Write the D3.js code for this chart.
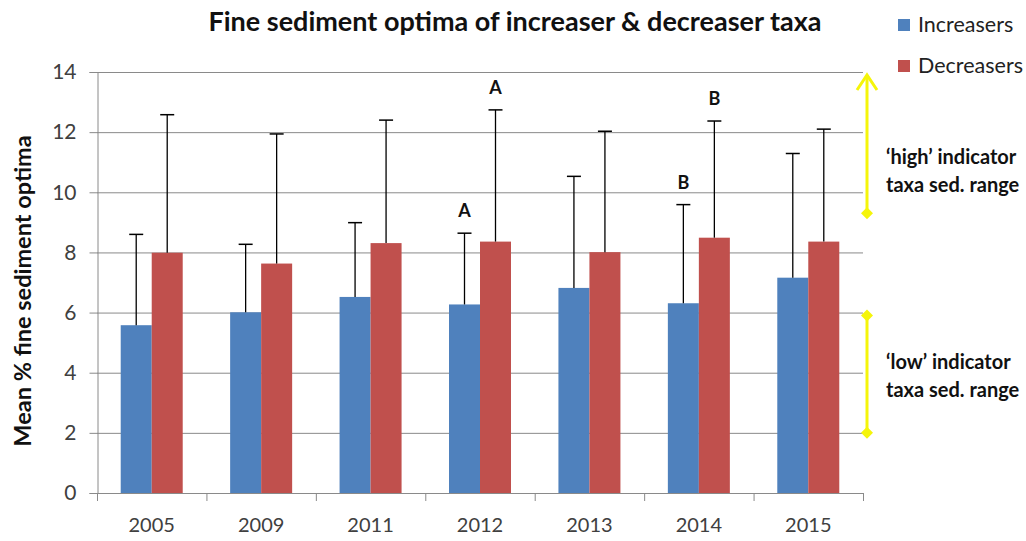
<!DOCTYPE html>
<html><head><meta charset="utf-8">
<script src="https://cdn.jsdelivr.net/npm/d3@7"></script>
<style>body{margin:0;background:#fff;} svg{display:block;}</style>
</head><body>
<svg id="chart" width="1026" height="541"></svg>
<script>
const years = ["2005","2009","2011","2012","2013","2014","2015"];
const seriesNames = ["Increasers","Decreasers"];
const increasers = [5.58, 6.01, 6.52, 6.27, 6.82, 6.31, 7.16];
const decreasers = [7.99, 7.63, 8.31, 8.36, 8.01, 8.49, 8.36];
const increasersErrTop = [8.60, 8.27, 8.99, 8.64, 10.53, 9.59, 11.29];
const decreasersErrTop = [12.58, 11.94, 12.40, 12.74, 12.03, 12.37, 12.10];
const increasersLetters = ["", "", "", "A", "", "B", ""];
const decreasersLetters = ["", "", "", "A", "", "B", ""];
const yTicks = [0, 2, 4, 6, 8, 10, 12, 14];
const highRange = [9.3, 13.9];
const lowRange = [2.0, 5.9];
const highLabel = ["\u2018high\u2019 indicator", "taxa sed. range"];
const lowLabel = ["\u2018low\u2019 indicator", "taxa sed. range"];
const titleText = "Fine sediment optima of increaser & decreaser taxa";
const yTitle = "Mean % fine sediment optima";

const colors = {Increasers: "#4F81BD", Decreasers: "#C0504D"};
const font = "Lato, 'Open Sans', sans-serif";

const svg = d3.select("#chart");
const L = 97, R = 863, T = 72, B = 493;

const x0 = d3.scaleBand().domain(years).range([L, R]).padding(0);
const barW = 31;
const x1 = d3.scaleBand().domain(seriesNames)
  .range([x0.bandwidth()/2 - barW, x0.bandwidth()/2 + barW]).padding(0);
const y = d3.scaleLinear().domain([0, 14]).range([B, T]);

// gridlines
svg.append("g").selectAll("line").data(yTicks.filter(d => d > 0)).join("line")
  .attr("x1", L).attr("x2", R).attr("y1", d => y(d) + 0.5).attr("y2", d => y(d) + 0.5)
  .attr("stroke", "#8a8a8a").attr("stroke-width", 1);

// y axis
const yAxis = d3.axisLeft(y).tickValues(yTicks).tickSize(8).tickPadding(13);
const gy = svg.append("g").attr("transform", `translate(${L + 0.5},0)`).call(yAxis);
gy.select(".domain").attr("stroke", "#8a8a8a");
gy.selectAll(".tick line").attr("stroke", "#8a8a8a");
gy.selectAll(".tick text").attr("font-family", font).attr("font-size", 21).attr("fill", "#404040");

// bars
const data = years.map((yr, i) => ({
  year: yr,
  vals: [
    {s: "Increasers", v: increasers[i], e: increasersErrTop[i], l: increasersLetters[i]},
    {s: "Decreasers", v: decreasers[i], e: decreasersErrTop[i], l: decreasersLetters[i]}
  ]
}));
const groups = svg.append("g").selectAll("g").data(data).join("g")
  .attr("transform", d => `translate(${x0(d.year)},0)`);
groups.selectAll("rect").data(d => d.vals).join("rect")
  .attr("x", d => x1(d.s)).attr("width", x1.bandwidth())
  .attr("y", d => y(d.v)).attr("height", d => y(0) - y(d.v))
  .attr("fill", d => colors[d.s]);
// error bars
groups.selectAll("line.err").data(d => d.vals).join("line").attr("class", "err")
  .attr("x1", d => x1(d.s) + x1.bandwidth()/2).attr("x2", d => x1(d.s) + x1.bandwidth()/2)
  .attr("y1", d => y(d.v)).attr("y2", d => y(d.e))
  .attr("stroke", "#000").attr("stroke-width", 1.3);
groups.selectAll("line.cap").data(d => d.vals).join("line").attr("class", "cap")
  .attr("x1", d => x1(d.s) + x1.bandwidth()/2 - 7).attr("x2", d => x1(d.s) + x1.bandwidth()/2 + 7)
  .attr("y1", d => y(d.e)).attr("y2", d => y(d.e))
  .attr("stroke", "#000").attr("stroke-width", 1.5);
groups.selectAll("text.let").data(d => d.vals.filter(v => v.l)).join("text").attr("class", "let")
  .attr("x", d => x1(d.s) + x1.bandwidth()/2).attr("y", d => y(d.e) - 16)
  .attr("text-anchor", "middle").attr("font-family", font).attr("font-weight", "bold")
  .attr("font-size", 18).attr("fill", "#111").text(d => d.l);

// x axis
svg.append("line").attr("x1", L).attr("x2", R).attr("y1", B + 0.5).attr("y2", B + 0.5)
  .attr("stroke", "#8a8a8a");
const bounds = years.map(d => x0(d)).concat([R]);
svg.append("g").selectAll("line").data(bounds).join("line")
  .attr("x1", d => d + 0.5).attr("x2", d => d + 0.5).attr("y1", B).attr("y2", B + 8)
  .attr("stroke", "#8a8a8a");
svg.append("g").selectAll("text").data(years).join("text")
  .attr("x", d => x0(d) + x0.bandwidth()/2).attr("y", B + 39)
  .attr("text-anchor", "middle").attr("font-family", font).attr("font-size", 20)
  .attr("fill", "#404040").text(d => d);

// title
svg.append("text").attr("x", 515).attr("y", 31).attr("text-anchor", "middle")
  .attr("font-family", font).attr("font-weight", "bold").attr("font-size", 27)
  .attr("fill", "#111").text(titleText);

// y title
svg.append("text").attr("transform", `translate(31,291) rotate(-90)`)
  .attr("text-anchor", "middle").attr("font-family", font).attr("font-weight", "bold")
  .attr("font-size", 23.5).attr("fill", "#111").text(yTitle);

// legend
const leg = svg.append("g").selectAll("g").data(seriesNames).join("g")
  .attr("transform", (d, i) => `translate(898,${19 + i * 41})`);
leg.append("rect").attr("width", 12).attr("height", 12).attr("fill", d => colors[d]);
leg.append("text").attr("x", 20).attr("y", 13).attr("font-family", font).attr("font-size", 21.5)
  .attr("fill", "#222").text(d => d);

// yellow range arrows
const ax = 867, yellow = "#F5F50A";
function rangeMarker(r, topArrow) {
  const g = svg.append("g");
  g.append("line").attr("x1", ax).attr("x2", ax).attr("y1", y(r[0])).attr("y2", y(r[1]))
    .attr("stroke", yellow).attr("stroke-width", 3);
  const diamond = (v) => g.append("path")
    .attr("d", `M${ax},${y(v)-6}L${ax+6},${y(v)}L${ax},${y(v)+6}L${ax-6},${y(v)}Z`).attr("fill", yellow);
  diamond(r[0]);
  if (topArrow) {
    g.append("path").attr("d", `M${ax-10},${y(r[1])+15}L${ax},${y(r[1])}L${ax+10},${y(r[1])+15}`)
      .attr("fill", "none").attr("stroke", yellow).attr("stroke-width", 3);
  } else diamond(r[1]);
}
rangeMarker(highRange, true);
rangeMarker(lowRange, false);

function rangeLabel(lines, y0) {
  svg.append("g").selectAll("text").data(lines).join("text")
    .attr("x", 886).attr("y", (d, i) => y0 + i * 28)
    .attr("font-family", font).attr("font-weight", "bold").attr("font-size", 20)
    .attr("fill", "#111").text(d => d);
}
rangeLabel(highLabel, 164);
rangeLabel(lowLabel, 369);
</script>
</body></html>
